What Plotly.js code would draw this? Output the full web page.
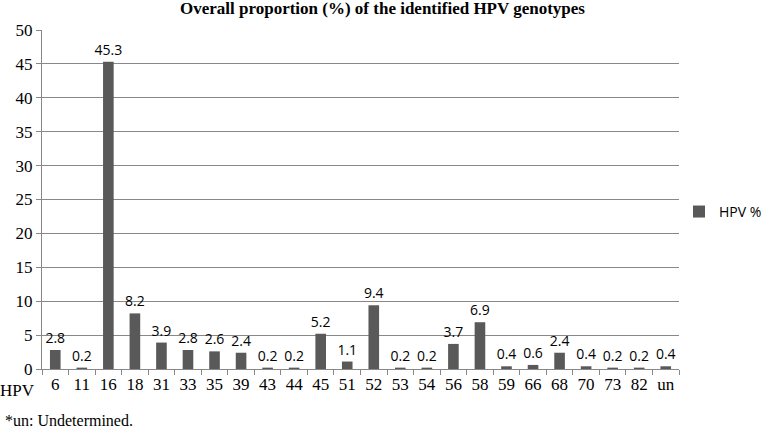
<!DOCTYPE html>
<html><head><meta charset="utf-8">
<script src="https://cdn.plot.ly/plotly-3.0.1.min.js"></script>
<style>html,body{margin:0;padding:0;background:#fff}</style>
</head><body><div id="chart" style="width:765px;height:429px"></div>
<script>
const genotypes = ["6","11","16","18","31","33","35","39","43","44","45","51","52","53","54","56","58","59","66","68","70","73","82","un"];
const hpvPercent = [2.8,0.2,45.3,8.2,3.9,2.8,2.6,2.4,0.2,0.2,5.2,1.1,9.4,0.2,0.2,3.7,6.9,0.4,0.6,2.4,0.4,0.2,0.2,0.4];
const yTicks = [0,5,10,15,20,25,30,35,40,45,50];

const trace = {
  type: "bar", x: genotypes, y: hpvPercent, name: "HPV %",
  marker: {color: "#595959"},
  text: hpvPercent.map(v => v.toFixed(1)), textposition: "outside",
  constraintext: "none",
  textfont: {family: "Open Sans, Liberation Sans, sans-serif", size: 14, color: "#000"},
  cliponaxis: false
};
const layout = {
  width: 765, height: 429,
  margin: {l: 42, r: 83, t: 30, b: 60},
  paper_bgcolor: "#fff", plot_bgcolor: "#fff",
  title: {text: "<b>Overall proportion (%) of the identified HPV genotypes</b>",
    font: {family: "Liberation Serif, Times New Roman, serif", size: 17, color: "#000"},
    x: 0.5, xanchor: "center", y: 0.995, yanchor: "top"},
  bargap: 0.6,
  xaxis: {type: "category", tickson: "boundaries", ticks: "outside", ticklen: 5, tickcolor: "#888",
    tickangle: 0, automargin: false,
    showline: true, linecolor: "#888", linewidth: 1, showgrid: false,
    tickfont: {family: "Liberation Serif, Times New Roman, serif", size: 17, color: "#000"}},
  yaxis: {range: [0, 50], tickvals: yTicks, ticks: "outside", ticklen: 5, tickcolor: "#888",
    automargin: false,
    showline: true, linecolor: "#888", showgrid: true, gridcolor: "#888", gridwidth: 1, zeroline: false,
    tickfont: {family: "Liberation Serif, Times New Roman, serif", size: 17, color: "#000"}},
  showlegend: true,
  legend: {xref: "container", yref: "container", x: 0.8876, y: 0.506, xanchor: "left", yanchor: "middle",
    font: {family: "Open Sans, Liberation Sans, sans-serif", size: 14, color: "#000"}},
  annotations: [
    {text: "HPV", xref: "paper", yref: "paper", x: -0.008, y: -0.03, xanchor: "right", yanchor: "top",
     showarrow: false, font: {family: "Liberation Serif, Times New Roman, serif", size: 17, color: "#000"}},
    {text: "*un: Undetermined.", xref: "paper", yref: "paper", x: -0.062, y: -0.12, xanchor: "left", yanchor: "top",
     showarrow: false, font: {family: "Liberation Serif, Times New Roman, serif", size: 16, color: "#000"}}
  ]
};
Plotly.newPlot("chart", [trace], layout, {displayModeBar: false, staticPlot: true});
</script></body></html>
